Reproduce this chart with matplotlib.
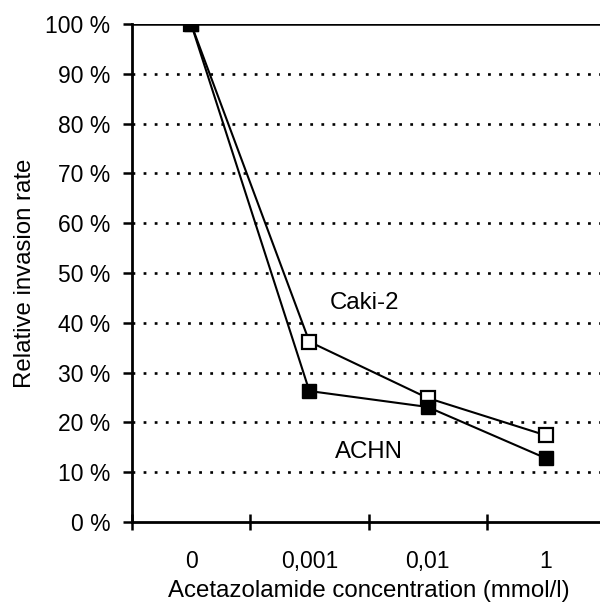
import matplotlib
matplotlib.use("Agg")
from matplotlib import pyplot as plt

plt.rcParams["font.family"] = ["Liberation Sans", "DejaVu Sans"]
plt.rcParams["lines.scale_dashes"] = False

categories = ["0", "0,001", "0,01", "1"]
caki2 = [100, 36.2, 24.9, 17.4]
achn = [100, 26.3, 23.1, 12.8]
yticks = list(range(0, 101, 10))
ytick_labels = ["%d %%" % v for v in yticks]

fs = 16.5
fs_lab = 17.3

fig = plt.figure(figsize=(6.0, 6.06), dpi=100)
ax = fig.add_axes([132 / 600, 1 - 522 / 606, 473 / 600, 498 / 606])

x = list(range(len(categories)))

# dotted grid, solid line on top
for v in yticks[1:-1]:
    ax.axhline(v, color="black", lw=1.9, dashes=(2, 6), zorder=1)
ax.axhline(100, color="black", lw=1.8, zorder=1)

ax.plot(x, caki2, color="black", lw=1.5, marker="s", markersize=10,
        markerfacecolor="white", markeredgecolor="black", markeredgewidth=1.6, zorder=3)
ax.plot(x, achn, color="black", lw=1.5, marker="s", markersize=10,
        markerfacecolor="black", markeredgecolor="black", zorder=4)

ax.text(1.47, 44, "Caki-2", fontsize=fs_lab, ha="center", va="center")
ax.text(1.50, 14, "ACHN", fontsize=fs_lab, ha="center", va="center")

ax.set_xlim(-0.5, len(categories) - 0.5)
ax.set_ylim(0, 100)

ax.set_yticks(yticks)
ax.set_yticklabels(ytick_labels, fontsize=fs)
ax.set_xticks(x)
ax.set_xticklabels(categories, fontsize=fs)
ax.tick_params(axis="x", length=0, pad=20)
ax.set_xticks([i + 0.5 for i in range(-1, len(categories))], minor=True)
ax.tick_params(axis="x", which="minor", length=11, width=1.8, direction="inout")
ax.tick_params(axis="y", length=6.5, width=1.8, direction="out", pad=9)

for s in ["top", "right"]:
    ax.spines[s].set_visible(False)
ax.spines["left"].set_linewidth(2)
ax.spines["bottom"].set_linewidth(2)

ax.set_ylabel("Relative invasion rate", fontsize=fs_lab, labelpad=7)
ax.set_xlabel("Acetazolamide concentration (mmol/l)", fontsize=fs_lab, labelpad=5)

fig.savefig("out.png", dpi=100)
